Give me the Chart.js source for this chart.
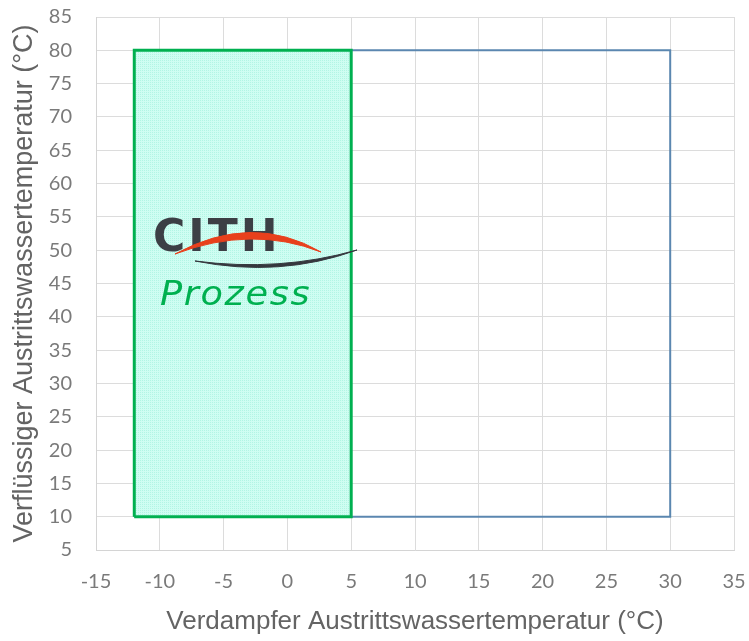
<!DOCTYPE html>
<html>
<head>
<meta charset="utf-8">
<script src="https://cdn.jsdelivr.net/npm/chart.js@4/dist/chart.umd.min.js"></script>
<style>
html,body{margin:0;padding:0;background:#fff;}
#wrap{width:749px;height:641px;position:relative;}
</style>
</head>
<body>
<div id="wrap"><canvas id="c" width="749" height="641"></canvas></div>
<script>
// Data
const outerX = [-12, 30, 30, -12, -12];
const outerY = [10, 10, 80, 80, 10];
const processX = [-12, 5, 5, -12, -12];
const processY = [10, 10, 80, 80, 10];
const xTicks = [-15, -10, -5, 0, 5, 10, 15, 20, 25, 30, 35];
const yTicks = [5, 10, 15, 20, 25, 30, 35, 40, 45, 50, 55, 60, 65, 70, 75, 80, 85];
const xTitle = 'Verdampfer Austrittswassertemperatur (°C)';
const yTitle = 'Verflüssiger Austrittswassertemperatur (°C)';
const logoTop = 'CITH';
const logoBottom = 'Prozess';

const toPts = (xs, ys) => xs.map((x, i) => ({x: x, y: ys[i]}));

// dotted light aqua fill
const pc = document.createElement('canvas');
pc.width = 2; pc.height = 2;
const pctx = pc.getContext('2d');
pctx.fillStyle = '#cffdf2'; pctx.fillRect(0, 0, 2, 2);
pctx.fillStyle = '#b2f5e4'; pctx.fillRect(0, 0, 1, 1);
const fillPattern = pctx.createPattern(pc, 'repeat');

const logoPlugin = {
  id: 'logo',
  afterDatasetsDraw(chart) {
    const ctx = chart.ctx;
    ctx.save();
    ctx.textBaseline = 'alphabetic';
    ctx.textAlign = 'left';
    // CITH
    ctx.fillStyle = '#3c3f45';
    ctx.font = 'bold 44px "DejaVu Sans"';
    ctx.letterSpacing = '3px';
    ctx.fillText(logoTop, 153, 251);
    ctx.letterSpacing = '0px';
    // red swoosh
    ctx.beginPath();
    ctx.moveTo(175, 254);
    ctx.quadraticCurveTo(252, 212, 321, 252);
    ctx.quadraticCurveTo(252, 225, 175, 254);
    ctx.closePath();
    ctx.fillStyle = '#e8401c';
    ctx.strokeStyle = '#e8401c';
    ctx.lineWidth = 1;
    ctx.fill();
    ctx.stroke();
    // dark swoosh
    ctx.beginPath();
    ctx.moveTo(195, 261);
    ctx.quadraticCurveTo(280, 278, 357, 250);
    ctx.quadraticCurveTo(280, 272, 195, 261);
    ctx.closePath();
    ctx.fillStyle = '#35383e';
    ctx.strokeStyle = '#35383e';
    ctx.lineWidth = 1;
    ctx.fill();
    ctx.stroke();
    // Prozess
    ctx.fillStyle = '#00b050';
    ctx.font = 'oblique 34px "DejaVu Sans"';
    ctx.letterSpacing = '1.5px';
    ctx.translate(160, 305);
    ctx.scale(1.08, 1);
    ctx.fillText(logoBottom, 0, 0);
    ctx.restore();
  }
};

new Chart(document.getElementById('c'), {
  type: 'scatter',
  data: {
    datasets: [
      {
        data: toPts(processX, processY),
        showLine: true,
        borderColor: '#00b050',
        borderWidth: 3,
        backgroundColor: fillPattern,
        fill: 'shape',
        pointRadius: 0,
        tension: 0,
        order: 1
      },
      {
        data: toPts(outerX, outerY),
        showLine: true,
        borderColor: '#5b87b0',
        borderWidth: 2,
        fill: false,
        pointRadius: 0,
        tension: 0,
        order: 2
      }
    ]
  },
  options: {
    responsive: false,
    animation: false,
    layout: {padding: {left: 4, right: 0, top: 0, bottom: 2}},
    plugins: {legend: {display: false}, tooltip: {enabled: false}},
    scales: {
      x: {
        type: 'linear',
        min: xTicks[0], max: xTicks[xTicks.length - 1],
        afterBuildTicks: (ax) => { ax.ticks = xTicks.map(v => ({value: v})); },
        afterFit: (s) => { s.height = 89; s.paddingLeft = 0; s.paddingRight = 15; },
        grid: {color: '#dcdcdc', drawTicks: false, lineWidth: 1},
        border: {color: '#d4d4d4'},
        ticks: {color: '#7a7a7a', font: {family: 'Lato', size: 20}, padding: 20, maxRotation: 0},
        title: {display: true, text: xTitle, color: '#646464', font: {family: 'Liberation Sans', size: 26}, padding: {top: 6, bottom: 2}}
      },
      y: {
        type: 'linear',
        min: yTicks[0], max: yTicks[yTicks.length - 1],
        afterBuildTicks: (ax) => { ax.ticks = yTicks.map(v => ({value: v})); },
        afterFit: (s) => { s.width = 92; s.paddingTop = 17; s.paddingBottom = 0; },
        grid: {color: '#dcdcdc', drawTicks: false, lineWidth: 1},
        border: {color: '#d4d4d4'},
        ticks: {color: '#7a7a7a', font: {family: 'Lato', size: 20}, padding: 24},
        title: {display: true, text: yTitle, color: '#646464', font: {family: 'Liberation Sans', size: 27}, padding: {top: 4, bottom: 0}}
      }
    }
  },
  plugins: [logoPlugin]
});
</script>
</body>
</html>
